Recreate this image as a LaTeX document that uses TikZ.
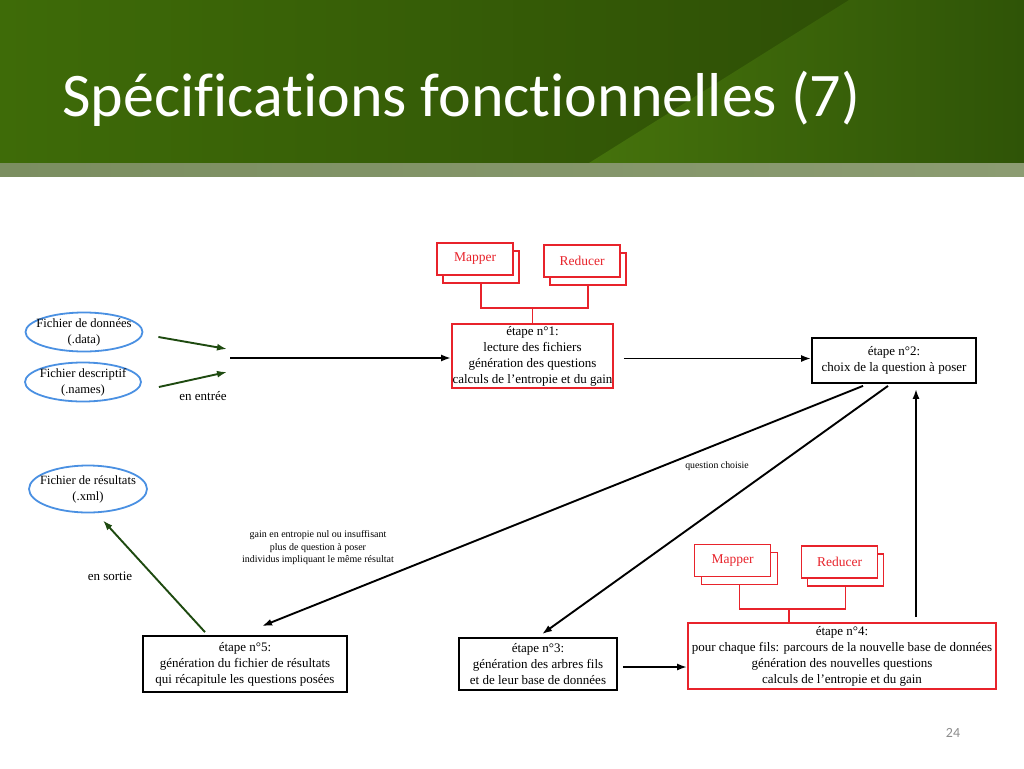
\documentclass[tikz,border=0pt]{standalone}
\usepackage{fontspec}
\setmainfont{Liberation Serif}
\newfontfamily\calfont[Ligatures=NoCommon]{Carlito}
\usetikzlibrary{shapes.geometric,arrows.meta}
\definecolor{myred}{HTML}{E8232B}
\definecolor{myblue}{HTML}{4A90E2}
\definecolor{mygreen}{HTML}{1E4A10}
\definecolor{hdA}{HTML}{3E6B08}
\definecolor{hdB}{HTML}{2B4A05}
\definecolor{hdC}{HTML}{45720C}
\definecolor{hdD}{HTML}{2F5407}
\definecolor{stripA}{HTML}{7B8E60}
\definecolor{stripB}{HTML}{8C9C72}
\tikzset{
  boxbase/.style={draw, line width=1.8pt, fill=white, inner sep=0pt, align=center,
    font=\fontsize{13}{16}\selectfont},
  redbox/.style={boxbase, draw=myred},
  blkbox/.style={boxbase, draw=black},
  mrbox/.style={boxbase, draw=myred, text=myred, minimum width=76pt, minimum height=32pt,
    font=\fontsize{13.5}{16}\selectfont},
  filebox/.style={ellipse, draw=myblue, line width=1.8pt, inner sep=0pt},
  filetext/.style={inner sep=0pt, align=center, font=\fontsize{12.6}{16}\selectfont},
  arr/.style={-{Latex[length=10pt,width=7pt]}, line width=1.9pt, draw=black},
  garr/.style={-{Latex[length=10pt,width=7pt]}, line width=1.9pt, draw=mygreen},
  redline/.style={draw=myred, line width=1.8pt},
  lbl/.style={inner sep=0pt, align=center}
}
\begin{document}
\begin{tikzpicture}[x=1pt,y=-1pt]
\useasboundingbox (0,0) rectangle (1024,768);
% header
\shade[left color=hdA, right color=hdB] (0,0) rectangle (1024,163);
\shade[left color=hdC, right color=hdD] (849,0) -- (1024,0) -- (1024,163) -- (589,163) -- cycle;
\shade[left color=stripA, right color=stripB] (0,163) rectangle (1024,176);
\node[anchor=base west, inner sep=0pt, text=white, font=\calfont\fontsize{62}{70}\selectfont] (title) at (62,116) {Spécifications fonctionnelles (7)};
\node[text=black!45, font=\calfont\fontsize{14}{16}\selectfont] (pnum) at (953,733) {24};

% top mapper / reducer
\node[mrbox] (m1b) at (481,267) {};
\node[mrbox] (m1) at (475,259) {Mapper};
\node[mrbox] (r1b) at (588,269) {};
\node[mrbox] (r1) at (582,261) {Reducer};
\node[redbox, minimum width=161pt, minimum height=64pt] (e1) at (532.5,356)
  {étape n°1:\\lecture des fichiers\\génération des questions\\calculs de l'entropie et du gain};
\coordinate (j1) at (532.5,308);
\draw[redline] (m1b.south) |- (j1) -| (r1b.south);
\draw[redline] (j1) -- (e1.north);

% etape 2
\node[blkbox, minimum width=164pt, minimum height=45pt] (e2) at (894,360.5)
  {étape n°2:\\choix de la question à poser};

% files
\node[filebox, minimum width=117pt, minimum height=39pt] (d1) at (84,332) {};
\node[filetext] (t1) at (d1) {Fichier de données\\(.data)};
\node[filebox, minimum width=116pt, minimum height=39pt] (d2) at (83,382) {};
\node[filetext] (t2) at (d2) {Fichier descriptif\\(.names)};
\node[filebox, minimum width=118pt, minimum height=47pt] (d3) at (88,489) {};
\node[filetext] (t3) at (d3) {Fichier de résultats\\(.xml)};
\coordinate (inA) at (227,349);
\coordinate (inB) at (227,372);
\coordinate (inC) at (230,358);
\draw[garr] ([shift={(15,5)}]d1.east) -- (inA);
\draw[garr] ([shift={(17,5)}]d2.east) -- (inB);
\draw[arr] (inC) -- (inC -| e1.west);
\node[lbl, font=\fontsize{13}{15}\selectfont] (lin) at (203,396) {en entrée};
\draw[arr, shorten <=10pt] (e1.east |- e2.west) ++(0,-2) coordinate (e1o) -- (e1o -| e2.west);

% bottom boxes
\node[blkbox, minimum width=204pt, minimum height=56pt] (e5) at (245,664)
  {étape n°5:\\génération du fichier de résultats\\qui récapitule les questions posées};
\node[blkbox, minimum width=158pt, minimum height=52pt] (e3) at (538,664)
  {étape n°3:\\génération des arbres fils\\et de leur base de données};
\node[redbox, minimum width=308pt, minimum height=66pt] (e4) at (842,656)
  {étape n°4:\\pour chaque fils: parcours de la nouvelle base de données\\génération des nouvelles questions\\calculs de l'entropie et du gain};

\node[mrbox] (m2b) at (739.5,568.5) {};
\node[mrbox] (m2) at (732.5,560.5) {Mapper};
\node[mrbox] (r2b) at (845.5,570) {};
\node[mrbox] (r2) at (839.5,562) {Reducer};
\coordinate (j2) at (789,609);
\draw[redline] (m2b.south) |- (j2) -| (r2b.south);
\draw[redline] (j2) -- (j2 |- e4.north);

% arrows between steps
\draw[arr] ([shift={(-31,2)}]e2.south) -- ([shift={(17,-9)}]e5.north);
\draw[arr] ([shift={(-6,2)}]e2.south) -- ([shift={(4,-3)}]e3.north);
\coordinate (up) at (916,617);
\draw[arr, shorten >=5pt] (up) -- (up |- e2.south);
\draw[arr, shorten <=5pt] ([shift={(0,3)}]e3.east) -- ([shift={(0,3)}]e3.east -| e4.west);
\draw[garr] ([shift={(-40,-3)}]e5.north) -- ([shift={(15,7)}]d3.south);

% labels
\node[lbl, font=\fontsize{9.8}{11}\selectfont] (lq) at (717,466) {question choisie};
\node[lbl, font=\fontsize{10}{12.5}\selectfont] (lg) at (318,548)
  {gain en entropie nul ou insuffisant\\plus de question à poser\\individus impliquant le même résultat};
\node[lbl, font=\fontsize{13}{15}\selectfont] (lout) at (110,576) {en sortie};
\end{tikzpicture}
\end{document}
